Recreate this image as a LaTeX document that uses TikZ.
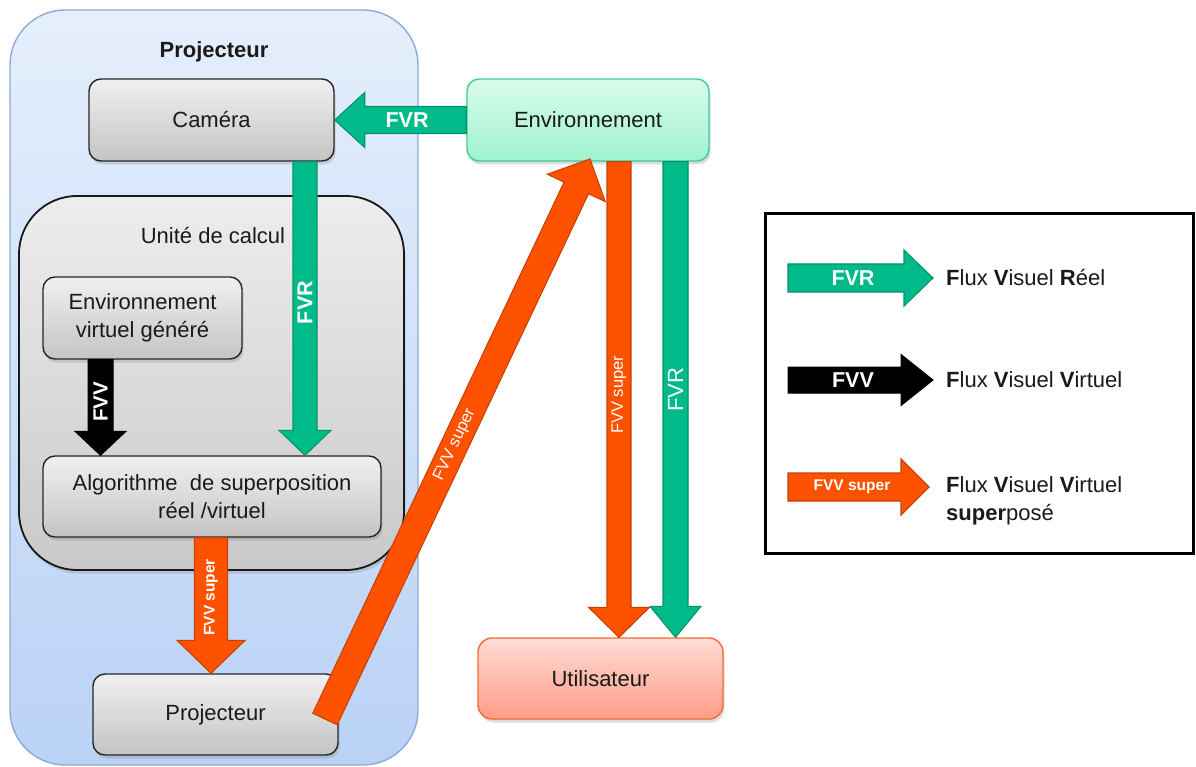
\documentclass[tikz,border=0pt]{standalone}
\usepackage{fontspec}
\setmainfont{Liberation Sans}
\usetikzlibrary{calc,shadows}
\definecolor{fvrg}{HTML}{00BA89}
\definecolor{fvrgd}{HTML}{00956C}
\definecolor{fvvo}{HTML}{FF5200}
\definecolor{fvvod}{HTML}{C84100}
\definecolor{grayT}{HTML}{F0F0F0}
\definecolor{grayB}{HTML}{C4C4C4}
\definecolor{unitT}{HTML}{EDEDED}
\definecolor{unitB}{HTML}{C9C9C9}
\definecolor{blueT}{HTML}{E5EFFC}
\definecolor{blueB}{HTML}{BAD2F6}
\definecolor{blueD}{HTML}{8FAAD6}
\definecolor{envT}{HTML}{D9FCEC}
\definecolor{envB}{HTML}{A0F2CF}
\definecolor{envD}{HTML}{3FCB98}
\definecolor{usrT}{HTML}{FFDCD6}
\definecolor{usrB}{HTML}{FF9C86}
\definecolor{usrD}{HTML}{F46B36}
\definecolor{txtc}{HTML}{1A1A1A}
% #1 style, #2 start, #3 tip, #4 half shaft, #5 half head, #6 head length
\newcommand{\blockarr}[6]{%
  \coordinate (baB) at ($(#3)!#6!(#2)$);
  \draw[#1] ($(#2)!#4!90:(#3)$) -- ($(baB)!#4!90:(#3)$) -- ($(baB)!#5!90:(#3)$)
    -- (#3) -- ($(baB)!#5!-90:(#3)$) -- ($(baB)!#4!-90:(#3)$) -- ($(#2)!#4!-90:(#3)$) -- cycle;}
\begin{document}
\begin{tikzpicture}[x=1pt,y=-1pt,
  txt/.style={font=\fontsize{22}{28}\selectfont, text=txtc, align=center},
  shad/.style={drop shadow={opacity=0.28,shadow xshift=1.5pt,shadow yshift=-3.5pt}},
  graybox/.style={txt, shad, draw=black!85, line width=1.4pt, rounded corners=12pt,
    top color=grayT, bottom color=grayB, inner sep=0pt},
  greenarr/.style={fill=fvrg, draw=fvrgd, line width=1.1pt, line join=miter},
  orangearr/.style={fill=fvvo, draw=fvvod, line width=1.1pt, line join=miter},
  blackarr/.style={fill=black, draw=black, line width=1pt, line join=miter},
  lblB/.style={font=\bfseries\fontsize{21.5}{24}\selectfont, text=white, inner sep=0pt},
  lblR/.style={font=\fontsize{22}{24}\selectfont, text=white, inner sep=0pt},
  lblS/.style={font=\bfseries\fontsize{15.5}{18}\selectfont, text=white, inner sep=0pt},
  lblSR/.style={font=\fontsize{16.5}{18}\selectfont, text=white, inner sep=0pt},
  legtxt/.style={font=\fontsize{22}{28}\selectfont, text=txtc, align=left, inner sep=0pt}
]
\useasboundingbox (0,0) rectangle (1196,767);

% containers
\node[draw=blueD, line width=1.4pt, rounded corners=55pt, top color=blueT, bottom color=blueB,
  minimum width=408pt, minimum height=755pt, inner sep=0pt] (projbox) at (214,387.5) {};
\node[txt, font=\bfseries\fontsize{22}{25}\selectfont] (projtitle) at (214,52) {Projecteur};
\node[shad, draw=black!90, line width=1.8pt, rounded corners=58pt, top color=unitT, bottom color=unitB,
  minimum width=385pt, minimum height=374pt, inner sep=0pt] (unit) at (211.5,383) {};
\node[txt] (unittitle) at (213,236) {Unité de calcul};

% boxes
\node[graybox, minimum width=245pt, minimum height=82pt] (cam) at (211.5,120) {Caméra};
\node[graybox, minimum width=199pt, minimum height=82pt] (envv) at (142.5,318) {Environnement\\virtuel généré};
\node[graybox, minimum width=338pt, minimum height=81pt] (algo) at (212,496.5) {Algorithme~ de superposition\\réel /virtuel};
\node[graybox, minimum width=245pt, minimum height=81pt] (proj) at (215.5,714.5) {Projecteur};
\node[txt, shad, draw=envD, line width=1.4pt, rounded corners=12pt, top color=envT, bottom color=envB,
  minimum width=242pt, minimum height=82pt, inner sep=0pt] (env) at (588,120) {Environnement};
\node[txt, shad, draw=usrD, line width=1.4pt, rounded corners=14pt, top color=usrT, bottom color=usrB,
  minimum width=245pt, minimum height=81pt, inner sep=0pt] (user) at (600.5,678.5) {Utilisateur};

% connector end points
\coordinate (a2s) at (305,0 |- cam.south);
\coordinate (a2e) at (305,0 |- algo.north);
\coordinate (a3s) at (100.5,0 |- envv.south);
\coordinate (a3e) at (100.5,0 |- algo.north);
\coordinate (a4s) at (211,0 |- algo.south);
\coordinate (a4e) at (211,0 |- proj.north);
\coordinate (a5s) at (325,719);
\coordinate (a5e) at (590,159);
\coordinate (a6s) at (619,0 |- env.south);
\coordinate (a6e) at (619,0 |- user.north);
\coordinate (a7s) at (675.5,0 |- env.south);
\coordinate (a7e) at (675.5,0 |- user.north);

% arrows
\blockarr{greenarr}{env.west}{cam.east}{13.5pt}{27.5pt}{30pt}
\node[lblB] (l1) at ($(env.west)!0.45!(cam.east)$) {FVR};
\blockarr{greenarr}{a2s}{a2e}{12pt}{26pt}{25pt}
\node[lblB, rotate=90] (l2) at ($(a2s)!0.48!(a2e)$) {FVR};
\blockarr{blackarr}{a3s}{a3e}{12.5pt}{25.5pt}{24pt}
\node[lblB, font=\bfseries\fontsize{20.5}{24}\selectfont, rotate=90] (l3) at ($(a3s)!0.44!(a3e)$) {FVV};
\blockarr{orangearr}{a4s}{a4e}{16.5pt}{34pt}{33pt}
\node[lblS, rotate=90] (l4) at ($(a4s)!0.44!(a4e)$) {FVV super};
\blockarr{orangearr}{a5s}{a5e}{13.5pt}{32pt}{32pt}
\node[lblSR, rotate=64.7] (l5) at ($(a5s)!0.49!(a5e)$) {FVV super};
\blockarr{orangearr}{a6s}{a6e}{12pt}{30.5pt}{30pt}
\node[lblSR, rotate=90] (l6) at ($(a6s)!0.49!(a6e)$) {FVV super};
\blockarr{greenarr}{a7s}{a7e}{12.5pt}{25.5pt}{31pt}
\node[lblR, rotate=90] (l7) at ($(a7s)!0.48!(a7e)$) {FVR};

% legend
\node[draw=black, line width=3pt, fill=white, minimum width=428pt, minimum height=339pt, inner sep=0pt] (legend) at (979,383.5) {};
\coordinate (g1s) at (788,278); \coordinate (g1e) at (933,278);
\coordinate (g2s) at (788,380); \coordinate (g2e) at (933,380);
\coordinate (g3s) at (788,487); \coordinate (g3e) at (929,487);
\blockarr{greenarr}{g1s}{g1e}{14pt}{28pt}{29pt}
\node[lblB] (gl1) at (853,278) {FVR};
\blockarr{blackarr}{g2s}{g2e}{13pt}{25.5pt}{32pt}
\node[lblB] (gl2) at (853,380) {FVV};
\blockarr{orangearr}{g3s}{g3e}{14pt}{28pt}{28pt}
\node[lblS] (gl3) at (852,487) {FVV super};
\node[legtxt, anchor=west] (gt1) at (946,278) {\textbf{F}lux \textbf{V}isuel \textbf{R}éel};
\node[legtxt, anchor=west] (gt2) at (946,380) {\textbf{F}lux \textbf{V}isuel \textbf{V}irtuel};
\node[legtxt, anchor=west] (gt3) at (946,501) {\textbf{F}lux \textbf{V}isuel \textbf{V}irtuel\\\textbf{super}posé};
\end{tikzpicture}
\end{document}
